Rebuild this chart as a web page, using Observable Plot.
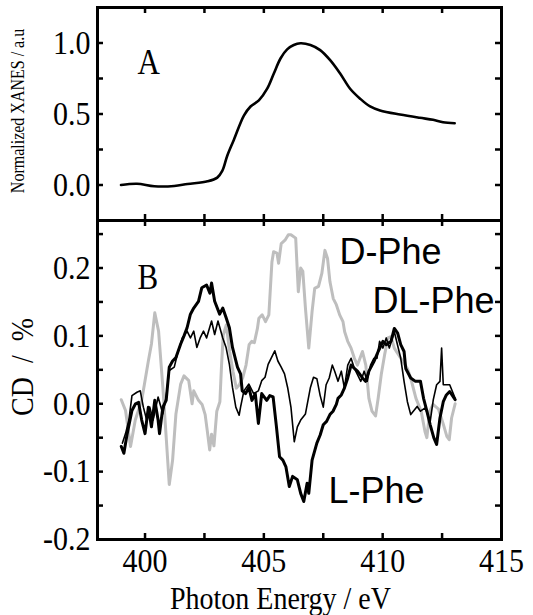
<!DOCTYPE html>
<html><head><meta charset="utf-8">
<script src="https://cdn.jsdelivr.net/npm/d3@7"></script>
<script src="https://cdn.jsdelivr.net/npm/@observablehq/plot@0.6"></script>
<style>
body{margin:0;background:#fff;}
#wrap{position:relative;width:533px;height:615px;overflow:hidden;background:#fff;}
#wrap svg{position:absolute;left:0;}
</style></head><body><div id="wrap"></div>
<script>
// ---- tick values ----
const xTickLabels = [400, 405, 410, 415];
const xTickMarks = [400, 402.5, 405, 407.5, 410, 412.5];
const topYLabels = [0, 0.5, 1.0];
const topYMarks = [0, 0.25, 0.5, 0.75, 1.0];
const botYLabels = [-0.2, -0.1, 0, 0.1, 0.2];
const botYMarks = [-0.15, -0.1, -0.05, 0, 0.05, 0.1, 0.15, 0.2, 0.25];

// ---- panel A: normalized XANES [eV, value] ----
const xanes = [[398.99,0],[399.66,0.009],[400.39,-0.009],[401.23,-0.007],[401.79,0.007],[402.63,0.026],[403.04,0.052],[403.25,0.099],[403.46,0.206],[403.74,0.319],[404.16,0.489],[404.44,0.553],[404.79,0.596],[405.14,0.678],[405.42,0.785],[405.7,0.891],[405.98,0.955],[406.26,0.986],[406.54,0.998],[406.96,0.986],[407.37,0.95],[407.79,0.879],[408.21,0.785],[408.63,0.678],[409.05,0.608],[409.47,0.553],[409.89,0.525],[410.73,0.496],[411.56,0.473],[412.12,0.459],[412.54,0.442],[413.03,0.435]];

// ---- panel B: CD spectra [eV, %] ----
const dPhe = [[399.0,0.006],[399.18,-0.01],[399.39,-0.063],[399.59,-0.024],[399.86,0.005],[400.14,0.063],[400.27,0.088],[400.41,0.134],[400.57,0.107],[400.75,0.024],[400.89,-0.049],[401.02,-0.119],[401.16,-0.083],[401.3,-0.015],[401.5,0.029],[401.64,0.041],[401.84,0.034],[401.98,0.0],[402.05,0.019],[402.25,0.005],[402.4,-0.001],[402.53,-0.016],[402.62,-0.04],[402.72,-0.068],[402.8,-0.045],[402.9,-0.062],[403.02,-0.011],[403.15,0.003],[403.22,0.057],[403.29,0.101],[403.42,0.116],[403.56,0.077],[403.7,0.048],[403.84,0.023],[403.97,0.028],[404.11,0.038],[404.25,0.057],[404.38,0.087],[404.49,0.092],[404.6,0.09],[404.73,0.111],[404.79,0.126],[404.93,0.131],[405.07,0.121],[405.21,0.131],[405.34,0.209],[405.41,0.224],[405.55,0.222],[405.62,0.207],[405.73,0.236],[405.89,0.241],[406.03,0.249],[406.14,0.249],[406.34,0.244],[406.45,0.165],[406.55,0.2],[406.64,0.195],[406.75,0.141],[406.89,0.082],[407.03,0.136],[407.14,0.17],[407.3,0.173],[407.44,0.192],[407.57,0.226],[407.68,0.214],[407.78,0.18],[407.92,0.155],[408.05,0.146],[408.19,0.131],[408.33,0.121],[408.4,0.106],[408.53,0.092],[408.67,0.082],[408.81,0.067],[408.94,0.057],[409.15,0.077],[409.29,0.057],[409.42,0.008],[409.55,-0.011],[409.7,-0.018],[409.81,0.008],[409.94,0.043],[410.08,0.072],[410.22,0.097],[410.35,0.099],[410.49,0.082],[410.76,0.067],[411.04,0.052],[411.2,0.035],[411.4,0.008],[411.62,-0.011],[411.78,-0.041],[411.86,-0.05],[411.98,-0.011],[412.12,-0.001],[412.35,-0.008],[412.55,-0.03],[412.7,-0.048],[412.8,-0.053],[412.9,-0.021],[413.05,0.0]];

const lPhe = [[399.0,-0.063],[399.11,-0.073],[399.25,-0.044],[399.45,-0.01],[399.6,0.0],[399.73,0.002],[399.86,-0.024],[400.0,-0.044],[400.14,-0.005],[400.27,-0.034],[400.41,0.005],[400.55,-0.024],[400.61,-0.044],[400.75,-0.005],[400.89,0.005],[401.02,0.054],[401.16,0.063],[401.3,0.068],[401.5,0.088],[401.64,0.1],[401.77,0.112],[401.91,0.132],[402.05,0.141],[402.25,0.151],[402.39,0.171],[402.59,0.175],[402.73,0.163],[402.8,0.178],[402.93,0.151],[403.14,0.132],[403.27,0.141],[403.41,0.127],[403.55,0.112],[403.68,0.083],[403.89,0.054],[404.02,0.044],[404.09,0.019],[404.23,0.015],[404.37,0.024],[404.5,0.005],[404.64,0.015],[404.77,-0.029],[404.91,0.015],[405.12,0.005],[405.25,0.012],[405.39,0.01],[405.53,-0.034],[405.66,-0.078],[405.8,-0.083],[405.93,-0.093],[406.07,-0.122],[406.21,-0.107],[406.41,-0.112],[406.55,-0.132],[406.68,-0.144],[406.82,-0.117],[406.89,-0.132],[407.03,-0.083],[407.23,-0.058],[407.37,-0.046],[407.5,-0.031],[407.64,-0.026],[407.78,-0.016],[407.91,-0.011],[408.05,-0.001],[408.12,0.008],[408.26,0.013],[408.39,0.023],[408.53,0.038],[408.67,0.057],[408.81,0.052],[408.94,0.048],[409.15,0.038],[409.28,0.033],[409.42,0.048],[409.63,0.062],[409.81,0.077],[410.01,0.092],[410.15,0.087],[410.35,0.092],[410.49,0.111],[410.63,0.104],[410.76,0.087],[410.9,0.077],[410.97,0.052],[411.18,0.038],[411.38,0.033],[411.59,0.033],[411.72,0.008],[411.86,-0.011],[412.0,-0.031],[412.15,-0.05],[412.27,-0.06],[412.41,-0.021],[412.55,0.003],[412.68,0.013],[412.82,0.018],[413.05,0.006]];

const dlPhe = [[399.05,-0.058],[399.18,-0.044],[399.32,-0.024],[399.45,0.012],[399.66,0.017],[399.8,0.019],[399.93,-0.005],[400.07,-0.024],[400.2,-0.005],[400.34,-0.024],[400.55,0.01],[400.75,-0.015],[400.89,0.01],[401.02,0.049],[401.23,0.054],[401.36,0.073],[401.57,0.097],[401.77,0.107],[401.91,0.097],[402.05,0.107],[402.18,0.083],[402.32,0.097],[402.46,0.107],[402.59,0.097],[402.8,0.122],[402.93,0.102],[403.07,0.122],[403.27,0.097],[403.41,0.083],[403.55,0.058],[403.68,0.024],[403.82,-0.005],[403.96,-0.017],[404.02,-0.005],[404.16,0.019],[404.37,0.029],[404.57,0.015],[404.77,0.019],[404.91,0.034],[405.05,0.039],[405.18,0.058],[405.32,0.068],[405.46,0.078],[405.59,0.063],[405.73,0.054],[405.87,0.044],[406.0,0.024],[406.14,-0.005],[406.28,-0.056],[406.41,-0.034],[406.55,-0.024],[406.75,-0.015],[406.96,0.024],[407.09,0.039],[407.23,0.037],[407.37,0.012],[407.5,-0.005],[407.62,0.028],[407.75,0.038],[407.88,0.057],[407.98,0.048],[408.12,0.033],[408.26,0.048],[408.39,0.023],[408.53,0.057],[408.67,0.067],[408.81,0.052],[409.08,0.033],[409.22,0.048],[409.35,0.033],[409.49,0.057],[409.63,0.067],[409.76,0.067],[409.87,0.092],[410.01,0.082],[410.15,0.097],[410.28,0.082],[410.49,0.106],[410.76,0.067],[410.9,0.033],[411.04,0.003],[411.18,-0.016],[411.45,-0.004],[411.59,-0.011],[411.79,-0.006],[412.0,-0.026],[412.13,0.006],[412.27,0.028],[412.41,0.033],[412.48,0.082],[412.55,0.028],[412.82,0.028],[413.05,0.008]];

// ---- labels ----
const panelA = "A", panelB = "B";
const seriesLabels = ["D-Phe", "DL-Phe", "L-Phe"];
const yLabelTop = "Normalized XANES / a.u";
const yLabelBot = "CD\u00a0 /\u00a0 %";
const xLabel = "Photon Energy / eV";

// ---- layout / style ----
const serif = "'Liberation Serif','Times New Roman',Times,serif";
const sans = "'Liberation Sans',Arial,Helvetica,sans-serif";
const W = 533, ML = 97, MR = 32, FW = W - ML - MR;
const TL = 6, TW = 2.5;
const xDomain = [398, 415];
const fmt = d => d.toFixed(1);

function frameTicks(yMarks, FH) {
  return [
    Plot.tickY(yMarks, {y: d => d, insetRight: FW - TL, stroke: "black", strokeWidth: TW}),
    Plot.tickY(yMarks, {y: d => d, insetLeft: FW - TL, stroke: "black", strokeWidth: TW}),
    Plot.tickX(xTickMarks, {x: d => d, insetBottom: FH - TL, stroke: "black", strokeWidth: TW}),
    Plot.tickX(xTickMarks, {x: d => d, insetTop: FH - TL, stroke: "black", strokeWidth: TW}),
    Plot.frame({stroke: "black", strokeWidth: 3})
  ];
}
function label(txt, o) {
  return Plot.text([txt], {text: d => d, lineAnchor: "middle", ...o});
}
// the original figure's serif lettering is slightly tall: stretch serif text vertically
function stretchSerif(svg, s) {
  svg.querySelectorAll("text").forEach(t => {
    if (t.closest('[font-family*="Sans"]')) return;
    const tr = t.getAttribute("transform");
    if (tr) t.setAttribute("transform", tr + ` scale(1,${s})`);
  });
}

const wrap = document.getElementById("wrap");

// Panel A
const topH = 225, topMT = 7, topMB = 5;
const topPlot = Plot.plot({
  width: W, height: topH, marginTop: topMT, marginBottom: topMB, marginLeft: ML, marginRight: MR,
  style: {background: "transparent", fontFamily: serif, fontSize: "30px", color: "black", overflow: "visible"},
  x: {domain: xDomain, axis: null},
  y: {domain: [-0.25, 1.25], ticks: topYLabels, tickSize: 0, tickPadding: 7, tickFormat: fmt, label: null},
  marks: [
    Plot.line(xanes, {x: d => d[0], y: d => d[1], stroke: "black", strokeWidth: 2.6, curve: "catmull-rom"}),
    ...frameTicks(topYMarks, topH - topMT - topMB),
    label(panelA, {frameAnchor: "top-left", textAnchor: "start", dx: 40, dy: 55, fontSize: 31, fontFamily: serif}),
    label(yLabelTop, {frameAnchor: "left", textAnchor: "middle", rotate: -90, dx: -79, dy: -3, fontSize: 16, fontFamily: serif})
  ]
});
stretchSerif(topPlot, 1.13);
topPlot.style.top = "0px";
wrap.appendChild(topPlot);

// Panel B
const botTop = 215, botH = 400, botMT = 5, botMB = 76;
const botPlot = Plot.plot({
  width: W, height: botH, marginTop: botMT, marginBottom: botMB, marginLeft: ML, marginRight: MR,
  style: {background: "transparent", fontFamily: serif, fontSize: "30px", color: "black", overflow: "visible"},
  x: {domain: xDomain, ticks: xTickLabels, tickSize: 0, tickPadding: 8, tickFormat: d => String(d), label: null},
  y: {domain: [-0.2, 0.27], ticks: botYLabels, tickSize: 0, tickPadding: 7, tickFormat: fmt, label: null},
  marks: [
    Plot.line(dPhe, {x: d => d[0], y: d => d[1], stroke: "#bebebe", strokeWidth: 3, strokeLinejoin: "round"}),
    Plot.line(dlPhe, {x: d => d[0], y: d => d[1], stroke: "black", strokeWidth: 1.6, strokeLinejoin: "round"}),
    Plot.line(lPhe, {x: d => d[0], y: d => d[1], stroke: "black", strokeWidth: 3, strokeLinejoin: "round"}),
    ...frameTicks(botYMarks, botH - botMT - botMB),
    label(panelB, {frameAnchor: "top-left", textAnchor: "start", dx: 40, dy: 57, fontSize: 31, fontFamily: serif}),
    label(seriesLabels[0], {frameAnchor: "top-left", textAnchor: "start", dx: 242, dy: 32, fontSize: 36, fontFamily: sans}),
    label(seriesLabels[1], {frameAnchor: "top-left", textAnchor: "start", dx: 275, dy: 81, fontSize: 36, fontFamily: sans}),
    label(seriesLabels[2], {frameAnchor: "top-left", textAnchor: "start", dx: 231, dy: 271, fontSize: 36, fontFamily: sans}),
    label(yLabelBot, {frameAnchor: "left", textAnchor: "middle", rotate: -90, dx: -75, dy: -13, fontSize: 28, fontFamily: serif}),
    label(xLabel, {frameAnchor: "bottom", textAnchor: "middle", dx: -19, dy: 59, fontSize: 28, fontFamily: serif})
  ]
});
stretchSerif(botPlot, 1.13);
botPlot.style.top = botTop + "px";
wrap.appendChild(botPlot);
</script></body></html>
